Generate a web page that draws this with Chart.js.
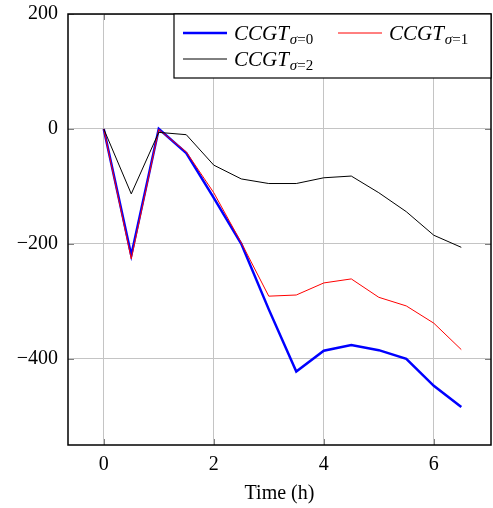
<!DOCTYPE html>
<html lang="en">
<head>
    <meta charset="UTF-8">
    <title>CCGT</title>
    <script src="https://cdn.jsdelivr.net/npm/chart.js"></script>
    <style>
        body { margin: 0; background: #fff; }
    </style>
</head>
<body>
    <canvas id="ccgtChart" width="493" height="508"></canvas>

    <script>
        // dados
        const times = [0, 0.5, 1, 1.5, 2, 2.5, 3, 3.5, 4, 4.5, 5, 5.5, 6, 6.5];
        const sigma0 = [0, -220, 0, -42, -120, -200, -314, -422, -386, -376, -385, -400, -447, -484];
        const sigma1 = [0, -226, -1, -40, -111, -198, -291, -289, -268, -261, -293, -308, -338, -384];
        const sigma2 = [0, -113, -6, -10, -63, -87, -95, -95, -85, -82, -111, -144, -185, -206];
        const seriesSubs = ['=0', '=1', '=2'];
        const xTicks = [0, 2, 4, 6];
        const yTicks = [-400, -200, 0, 200];

        const serif = '"Liberation Serif", "DejaVu Serif", serif';

        function toPoints(values) {
            return times.map((t, i) => ({ x: t, y: values[i] }));
        }

        function fmt(v) {
            return v < 0 ? '\u2212' + Math.abs(v) : String(v);
        }

        // texto tipo CCGT_{sigma=0}
        function drawMathLabel(ctx, x, y, sub) {
            ctx.save();
            ctx.fillStyle = '#000';
            ctx.textBaseline = 'alphabetic';
            ctx.textAlign = 'left';
            ctx.font = 'italic 21px ' + serif;
            ctx.fillText('CCGT', x, y);
            let w = ctx.measureText('CCGT').width;
            ctx.font = 'italic 15px ' + serif;
            ctx.fillText('\u03c3', x + w + 1, y + 4);
            let w2 = ctx.measureText('\u03c3').width;
            ctx.font = '15px ' + serif;
            ctx.fillText(sub, x + w + 1 + w2, y + 4);
            ctx.restore();
        }

        const framePlugin = {
            id: 'frame',
            afterDraw(chart) {
                const ctx = chart.ctx;
                const a = chart.chartArea;
                const xs = chart.scales.x, ys = chart.scales.y;

                // marcas dos ticks para dentro
                ctx.save();
                ctx.strokeStyle = '#808080';
                ctx.lineWidth = 1;
                xTicks.forEach(v => {
                    const px = Math.round(xs.getPixelForValue(v)) + 0.5;
                    ctx.beginPath();
                    ctx.moveTo(px, a.bottom); ctx.lineTo(px, a.bottom - 6);
                    ctx.moveTo(px, a.top); ctx.lineTo(px, a.top + 6);
                    ctx.stroke();
                });
                yTicks.forEach(v => {
                    const py = Math.round(ys.getPixelForValue(v)) + 0.5;
                    ctx.beginPath();
                    ctx.moveTo(a.left, py); ctx.lineTo(a.left + 6, py);
                    ctx.moveTo(a.right, py); ctx.lineTo(a.right - 6, py);
                    ctx.stroke();
                });

                // moldura
                ctx.strokeStyle = '#000';
                ctx.lineWidth = 1.5;
                ctx.strokeRect(a.left, a.top, a.right - a.left, a.bottom - a.top);

                // legenda
                const lx = 174, ly = a.top, lw = a.right - 174, lh = 64;
                ctx.fillStyle = '#fff';
                ctx.fillRect(lx, ly, lw, lh);
                ctx.lineWidth = 1.2;
                ctx.strokeRect(lx, ly, lw, lh);

                const entries = [
                    { x: 183, y: 33, ds: chart.data.datasets[0], sub: seriesSubs[0] },
                    { x: 338, y: 33, ds: chart.data.datasets[1], sub: seriesSubs[1] },
                    { x: 183, y: 59, ds: chart.data.datasets[2], sub: seriesSubs[2] }
                ];
                entries.forEach(e => {
                    ctx.strokeStyle = e.ds.borderColor;
                    ctx.lineWidth = e.ds.borderWidth;
                    ctx.beginPath();
                    ctx.moveTo(e.x, e.y);
                    ctx.lineTo(e.x + 44, e.y);
                    ctx.stroke();
                    drawMathLabel(ctx, e.x + 51, e.y + 7, e.sub);
                });
                ctx.restore();
            }
        };

        const ctxChart = document.getElementById('ccgtChart').getContext('2d');
        const ccgtChart = new Chart(ctxChart, {
            type: 'line',
            data: {
                datasets: [
                    {
                        label: 'CCGT sigma=0',
                        data: toPoints(sigma0),
                        borderColor: '#0000ff',
                        borderWidth: 2.5,
                        pointRadius: 0,
                        tension: 0,
                        order: 3
                    },
                    {
                        label: 'CCGT sigma=1',
                        data: toPoints(sigma1),
                        borderColor: '#ff0000',
                        borderWidth: 1,
                        pointRadius: 0,
                        tension: 0,
                        order: 2
                    },
                    {
                        label: 'CCGT sigma=2',
                        data: toPoints(sigma2),
                        borderColor: '#000000',
                        borderWidth: 1,
                        pointRadius: 0,
                        tension: 0,
                        order: 1
                    }
                ]
            },
            options: {
                responsive: false,
                animation: false,
                layout: { padding: { top: 14, right: 2, left: 0, bottom: 0 } },
                plugins: {
                    legend: { display: false },
                    tooltip: { enabled: false }
                },
                scales: {
                    x: {
                        type: 'linear',
                        min: -0.65,
                        max: 7.04,
                        afterBuildTicks: s => { s.ticks = xTicks.map(v => ({ value: v })); },
                        afterFit: s => { s.height = 63; s.paddingLeft = 0; s.paddingRight = 0; },
                        ticks: {
                            padding: 8,
                            color: '#000',
                            font: { family: serif, size: 20 },
                            callback: v => fmt(v)
                        },
                        grid: { color: '#c4c4c4', drawTicks: false },
                        border: { display: false },
                        title: {
                            display: true,
                            text: 'Time (h)',
                            color: '#000',
                            font: { family: serif, size: 20 },
                            padding: { top: 0, bottom: 2 }
                        }
                    },
                    y: {
                        min: -550,
                        max: 200,
                        afterBuildTicks: s => { s.ticks = yTicks.map(v => ({ value: v })); },
                        afterFit: s => { s.width = 68; s.paddingTop = 0; s.paddingBottom = 0; },
                        ticks: {
                            padding: 10,
                            color: '#000',
                            font: { family: serif, size: 20 },
                            callback: v => fmt(v)
                        },
                        grid: { color: '#c4c4c4', drawTicks: false },
                        border: { display: false }
                    }
                }
            },
            plugins: [framePlugin]
        });
    </script>
</body>
</html>
